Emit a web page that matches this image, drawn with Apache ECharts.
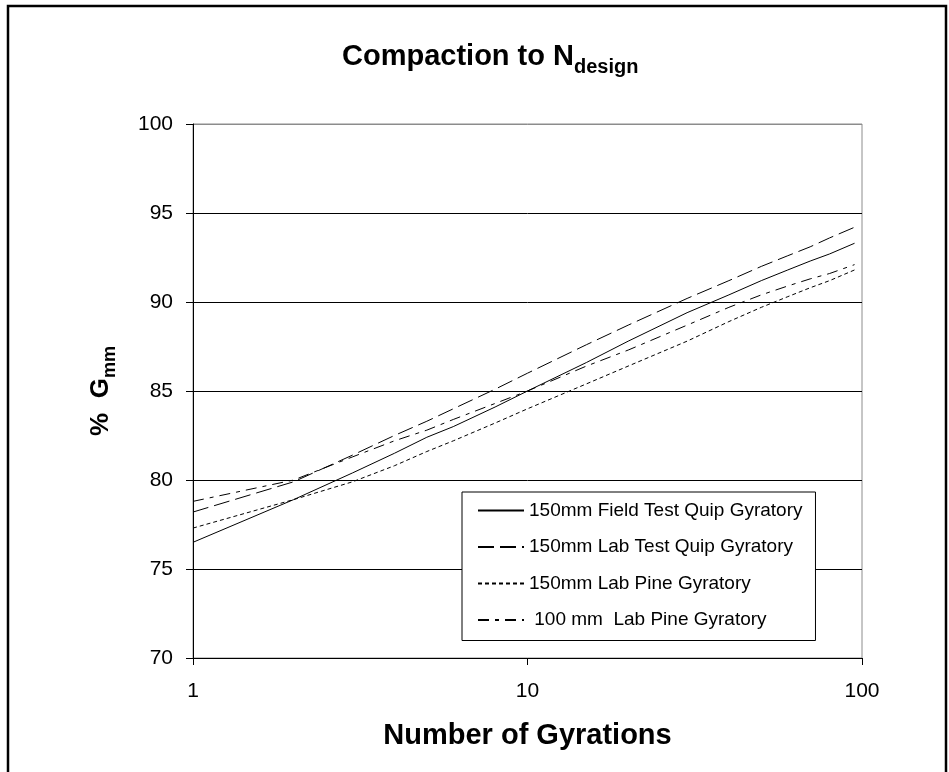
<!DOCTYPE html>
<html>
<head>
<meta charset="utf-8">
<script src="https://cdn.jsdelivr.net/npm/echarts@6/dist/echarts.min.js"></script>
<style>
  html, body { margin: 0; padding: 0; background: #fff; }
  #chart { width: 949px; height: 772px; }
</style>
</head>
<body>
<div id="chart"></div>
<script>
// Gyration counts at which %Gmm was recorded
const gyrations = [1, 2, 3, 4, 5, 6, 8, 10, 15, 20, 30, 40, 50, 60, 70, 80, 95];

// %Gmm for each compactor
const fieldTestQuip150 = [76.5, 78.9, 80.4, 81.5, 82.4, 83.0, 84.1, 85.0, 86.6, 87.8, 89.4, 90.4, 91.2, 91.8, 92.3, 92.7, 93.3];
const labTestQuip150   = [78.2, 79.9, 81.4, 82.5, 83.3, 84.0, 85.1, 86.0, 87.6, 88.7, 90.2, 91.2, 92.0, 92.6, 93.1, 93.6, 94.2];
const labPine150       = [77.3, 78.9, 79.9, 80.8, 81.6, 82.2, 83.2, 84.0, 85.4, 86.4, 87.8, 88.9, 89.7, 90.3, 90.8, 91.2, 91.8];
const labPine100       = [78.8, 80.0, 81.3, 82.2, 82.8, 83.4, 84.3, 85.0, 86.4, 87.3, 88.7, 89.7, 90.4, 90.9, 91.3, 91.6, 92.1];

const seriesNames = [
  '150mm Field Test Quip Gyratory',
  '150mm Lab Test Quip Gyratory',
  '150mm Lab Pine Gyratory',
  ' 100 mm  Lab Pine Gyratory'
];

// Axis ranges
const yMin = 70, yMax = 100, yStep = 5;
const xMin = 1, xMax = 100;

const FONT = "'Liberation Sans', Arial, sans-serif";

const dashStyles = ['solid', [16, 6], [4, 3], [11, 6, 4, 6]];
const valueSets = [fieldTestQuip150, labTestQuip150, labPine150, labPine100];

const series = valueSets.map((vals, i) => ({
  name: seriesNames[i],
  type: 'line',
  data: gyrations.map((g, k) => [g, vals[k]]),
  showSymbol: false,
  symbol: 'none',
  smooth: false,
  lineStyle: { color: '#000', width: 1, type: dashStyles[i] },
  itemStyle: { color: '#000' },
  emphasis: { disabled: true }
}));

const chart = echarts.init(document.getElementById('chart'), null, { renderer: 'canvas' });

chart.setOption({
  animation: false,
  backgroundColor: '#fff',
  title: {
    text: '{m|Compaction to N}{s|design}',
    left: 337,
    top: 37,
    textStyle: {
      rich: {
        m: { fontFamily: FONT, fontSize: 29, fontWeight: 'bold', color: '#000', padding: [0, 0, 6, 0], verticalAlign: 'bottom' },
        s: { fontFamily: FONT, fontSize: 20, fontWeight: 'bold', color: '#000', verticalAlign: 'bottom' }
      }
    }
  },
  grid: {
    left: 193, right: 87, top: 124, bottom: 114,
    show: true, borderColor: '#8c8c8c', borderWidth: 1, backgroundColor: 'transparent'
  },
  legend: {
    orient: 'vertical',
    left: 462,
    top: 492,
    padding: [9, 13, 11, 15],
    itemWidth: 46,
    itemHeight: 14,
    itemGap: 17.5,
    backgroundColor: '#fff',
    borderColor: '#000',
    borderWidth: 1,
    borderRadius: 0,
    selectedMode: false,
    itemStyle: { opacity: 0, color: 'rgba(0,0,0,0)', borderWidth: 0 },
    textStyle: { fontFamily: FONT, fontSize: 19, color: '#000', lineHeight: 19 },
    data: seriesNames
  },
  xAxis: {
    type: 'log',
    logBase: 10,
    min: xMin,
    max: xMax,
    name: 'Number of Gyrations',
    nameLocation: 'middle',
    nameGap: 63,
    nameTextStyle: { fontFamily: FONT, fontSize: 29, fontWeight: 'bold', color: '#000' },
    axisLine: { show: true, lineStyle: { color: '#000', width: 1 } },
    axisTick: { show: true, inside: false, length: 7, lineStyle: { color: '#000' } },
    minorTick: { show: false },
    axisLabel: { fontFamily: FONT, fontSize: 21, color: '#000', margin: 23 },
    splitLine: { show: false }
  },
  yAxis: {
    type: 'value',
    min: yMin,
    max: yMax,
    interval: yStep,
    name: '{m|%  G}{s|mm}',
    nameLocation: 'middle',
    nameRotate: 90,
    nameGap: 74,
    nameTextStyle: {
      rich: {
        m: { fontFamily: FONT, fontSize: 26, fontWeight: 'bold', color: '#000', padding: [0, 0, 5, 0], verticalAlign: 'bottom' },
        s: { fontFamily: FONT, fontSize: 18, fontWeight: 'bold', color: '#000', verticalAlign: 'bottom' }
      }
    },
    axisLine: { show: true, lineStyle: { color: '#000', width: 1 } },
    axisTick: { show: true, inside: false, length: 7, lineStyle: { color: '#000' } },
    axisLabel: { fontFamily: FONT, fontSize: 21, color: '#000', margin: 20 },
    splitLine: { show: true, lineStyle: { color: ['#000', '#000', '#000', '#000', '#000', '#000', '#8c8c8c'], width: 1 } }
  },
  graphic: [
    {
      type: 'polyline',
      silent: true,
      z: 100,
      shape: { points: [[8, 772], [8, 6], [946, 6], [946, 772]] },
      style: { stroke: '#000', lineWidth: 2.5, fill: null }
    }
  ],
  series: series
});
</script>
</body>
</html>
